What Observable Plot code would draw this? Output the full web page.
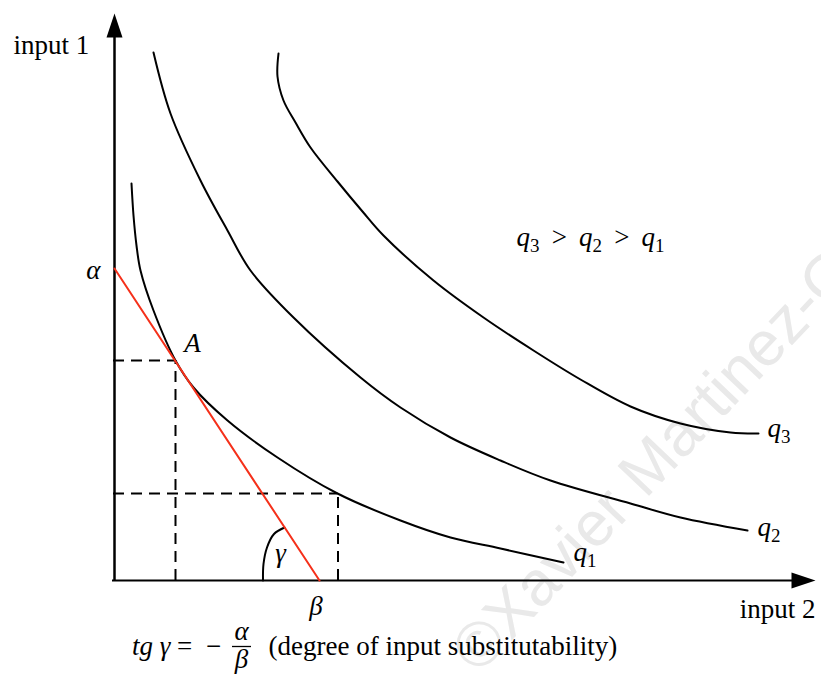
<!DOCTYPE html>
<html>
<head>
<meta charset="utf-8">
<script src="https://cdn.jsdelivr.net/npm/d3@7"></script>
<script src="https://cdn.jsdelivr.net/npm/@observablehq/plot@0.6"></script>
<style>
  html, body { margin: 0; padding: 0; background: #fff; }
  #chart svg { display: block; }
</style>
</head>
<body>
<div id="chart"></div>
<script>
// ---- data (units: input 2 on x, input 1 on y) ----
const isoquantQ1 = [[0.34,7.94],[0.38,7.30],[0.44,6.70],[0.52,6.20],[0.78,5.40],[1.22,4.40],[1.58,3.86],[2.26,3.20],[3.26,2.46],[4.46,1.74],[5.72,1.20],[6.72,0.86],[7.72,0.64],[8.98,0.36]];
const isoquantQ2 = [[0.78,10.56],[1.12,9.34],[1.72,8.00],[2.26,7.00],[2.72,6.20],[3.58,5.26],[4.92,4.06],[5.72,3.46],[6.72,2.86],[7.72,2.40],[8.72,2.00],[10.32,1.54],[11.32,1.26],[12.66,1.00]];
const isoquantQ3 = [[3.28,10.54],[3.26,10.08],[3.38,9.60],[3.62,9.16],[3.92,8.66],[4.46,7.98],[4.96,7.38],[5.38,6.90],[6.38,6.00],[7.38,5.26],[8.38,4.60],[9.32,4.02],[10.32,3.48],[11.32,3.14],[12.32,2.96],[12.88,2.94]];
const alphaIntercept = 6.24;   // isocost intercept on input 1
const betaIntercept = 4.10;    // isocost intercept on input 2
const pointA = {x: 1.22, y: 4.40};
const pointB = {x: 4.47, y: 1.74};
const gammaArc = [[2.97,0.00],[2.98,0.33],[3.05,0.66],[3.19,0.93],[3.40,1.06]];
const axisTop = 11.34;
const axisRight = 14.02;

// ---- labels ----
const startLabels = [
  {text: "input 1", x: -2.02, y: 10.71}
];
const endLabels = [
  {text: "input 2", x: 14.02, y: -0.57}
];
const REL = " \u2009>\u2009 ";
const mathStart = [
  {text: "q_1", x: 9.18, y: 0.56},
  {text: "q_2", x: 12.86, y: 1.06},
  {text: "q_3", x: 13.06, y: 3.04},
  {text: "q_3" + REL + "q_2" + REL + "q_1", x: 8.04, y: 6.86},
  {text: "(degree of input substitutability)", x: 3.08, y: -1.31, upright: true}
];
const mathMiddle = [
  {text: "A", x: 1.56, y: 4.74},
  {text: "β", x: 4.03, y: -0.51},
  {text: "γ", x: 3.32, y: 0.55},
  {text: "α", x: 2.54, y: -1.01},
  {text: "β", x: 2.54, y: -1.58}
];
const mathEnd = [
  {text: "α", x: -0.28, y: 6.2},
  {text: "tg γ", x: 1.12, y: -1.31}
];
const operators = [
  {text: "=", x: 1.40, y: -1.31},
  {text: "−", x: 1.98, y: -1.31}
];
const fractionBar = [{x1: 2.36, x2: 2.74, y: -1.32}];
const watermark = [{text: "©Xavier Martinez-Giralt", x: 6.99, y: -1.62}];

const arrowHead = {
  draw(ctx) { ctx.moveTo(0, 0); ctx.lineTo(-8, 24); ctx.lineTo(8, 24); ctx.closePath(); }
};

const serif = "Liberation Serif, Times New Roman, serif";
const fs = 27;

const chart = Plot.plot({
  width: 821,
  height: 678,
  marginLeft: 114,
  marginRight: 0,
  marginTop: 0,
  marginBottom: 98,
  x: {domain: [0, 14.14], axis: null},
  y: {domain: [0, 11.6], axis: null},
  style: {background: "white", fontFamily: serif},
  marks: [
    Plot.text(watermark, {x: "x", y: "y", text: "text", rotate: -46.5, textAnchor: "start", fontSize: 63, fill: "#e9e9e9", fontFamily: "Liberation Sans, Arial, sans-serif"}),
    // dashed guides
    Plot.ruleY([pointA, pointB], {y: "y", x1: -0.02, x2: "x", stroke: "black", strokeWidth: 2, strokeDasharray: "11,7"}),
    Plot.ruleX([pointA, pointB], {x: "x", y1: 0, y2: "y", stroke: "black", strokeWidth: 2, strokeDasharray: "11,7"}),
    // axes
    Plot.ruleX([0], {y1: 0, y2: axisTop - 0.4, stroke: "black", strokeWidth: 2.5}),
    Plot.ruleY([0], {x1: -0.04, x2: axisRight - 0.4, stroke: "black", strokeWidth: 2.2}),
    Plot.dot([{x: 0, y: axisTop}], {x: "x", y: "y", symbol: arrowHead, fill: "black", stroke: "none", r: 1}),
    Plot.dot([{x: axisRight, y: 0}], {x: "x", y: "y", symbol: arrowHead, fill: "black", stroke: "none", r: 1, rotate: 90}),
    // isoquants
    Plot.line(isoquantQ1, {x: d => d[0], y: d => d[1], curve: "catmull-rom", stroke: "black", strokeWidth: 2}),
    Plot.line(isoquantQ2, {x: d => d[0], y: d => d[1], curve: "catmull-rom", stroke: "black", strokeWidth: 2}),
    Plot.line(isoquantQ3, {x: d => d[0], y: d => d[1], curve: "catmull-rom", stroke: "black", strokeWidth: 2}),
    // angle arc
    Plot.line(gammaArc, {x: d => d[0], y: d => d[1], curve: "catmull-rom", stroke: "black", strokeWidth: 2}),
    // isocost
    Plot.line([{x: 0, y: alphaIntercept}, {x: betaIntercept, y: 0}], {x: "x", y: "y", stroke: "#f5301a", strokeWidth: 2}),
    // fraction bar
    Plot.ruleY(fractionBar, {y: "y", x1: "x1", x2: "x2", stroke: "black", strokeWidth: 1.3}),
    // labels
    Plot.text(startLabels, {x: "x", y: "y", text: "text", textAnchor: "start", fontSize: fs, fill: "black"}),
    Plot.text(endLabels, {x: "x", y: "y", text: "text", textAnchor: "end", fontSize: fs, fill: "black"}),
    Plot.text(mathStart.filter(d => !d.upright), {x: "x", y: "y", text: "text", textAnchor: "start", fontSize: fs, fontStyle: "italic", fill: "black"}),
    Plot.text(mathStart.filter(d => d.upright), {x: "x", y: "y", text: "text", textAnchor: "start", fontSize: fs, fill: "black"}),
    Plot.text(mathMiddle, {x: "x", y: "y", text: "text", textAnchor: "middle", fontSize: fs, fontStyle: "italic", fill: "black"}),
    Plot.text(mathEnd, {x: "x", y: "y", text: "text", textAnchor: "end", fontSize: fs, fontStyle: "italic", fill: "black"}),
    Plot.text(operators, {x: "x", y: "y", text: "text", textAnchor: "middle", fontSize: fs, fill: "black"})
  ]
});

// subscripts: "q_3" -> q with lowered upright digit; ">" upright
d3.select(chart).selectAll("text").each(function() {
  const t = this.textContent;
  if (!t.includes("_")) return;
  const parts = t.split(/_(\d)/);
  this.textContent = "";
  let lowered = false;
  parts.forEach((p, i) => {
    if (i % 2 === 1) {
      const ts = document.createElementNS("http://www.w3.org/2000/svg", "tspan");
      ts.setAttribute("dy", "6");
      ts.setAttribute("font-size", "19");
      ts.setAttribute("font-style", "normal");
      ts.textContent = p;
      this.appendChild(ts);
      lowered = true;
    } else if (p.length) {
      const segs = p.split(/(>)/);
      segs.forEach((s) => {
        if (!s.length) return;
        const ts = document.createElementNS("http://www.w3.org/2000/svg", "tspan");
        if (lowered) { ts.setAttribute("dy", "-6"); lowered = false; }
        if (s === ">") ts.setAttribute("font-style", "normal");
        ts.textContent = s;
        this.appendChild(ts);
      });
    }
  });
});

document.getElementById("chart").appendChild(chart);
</script>
</body>
</html>
